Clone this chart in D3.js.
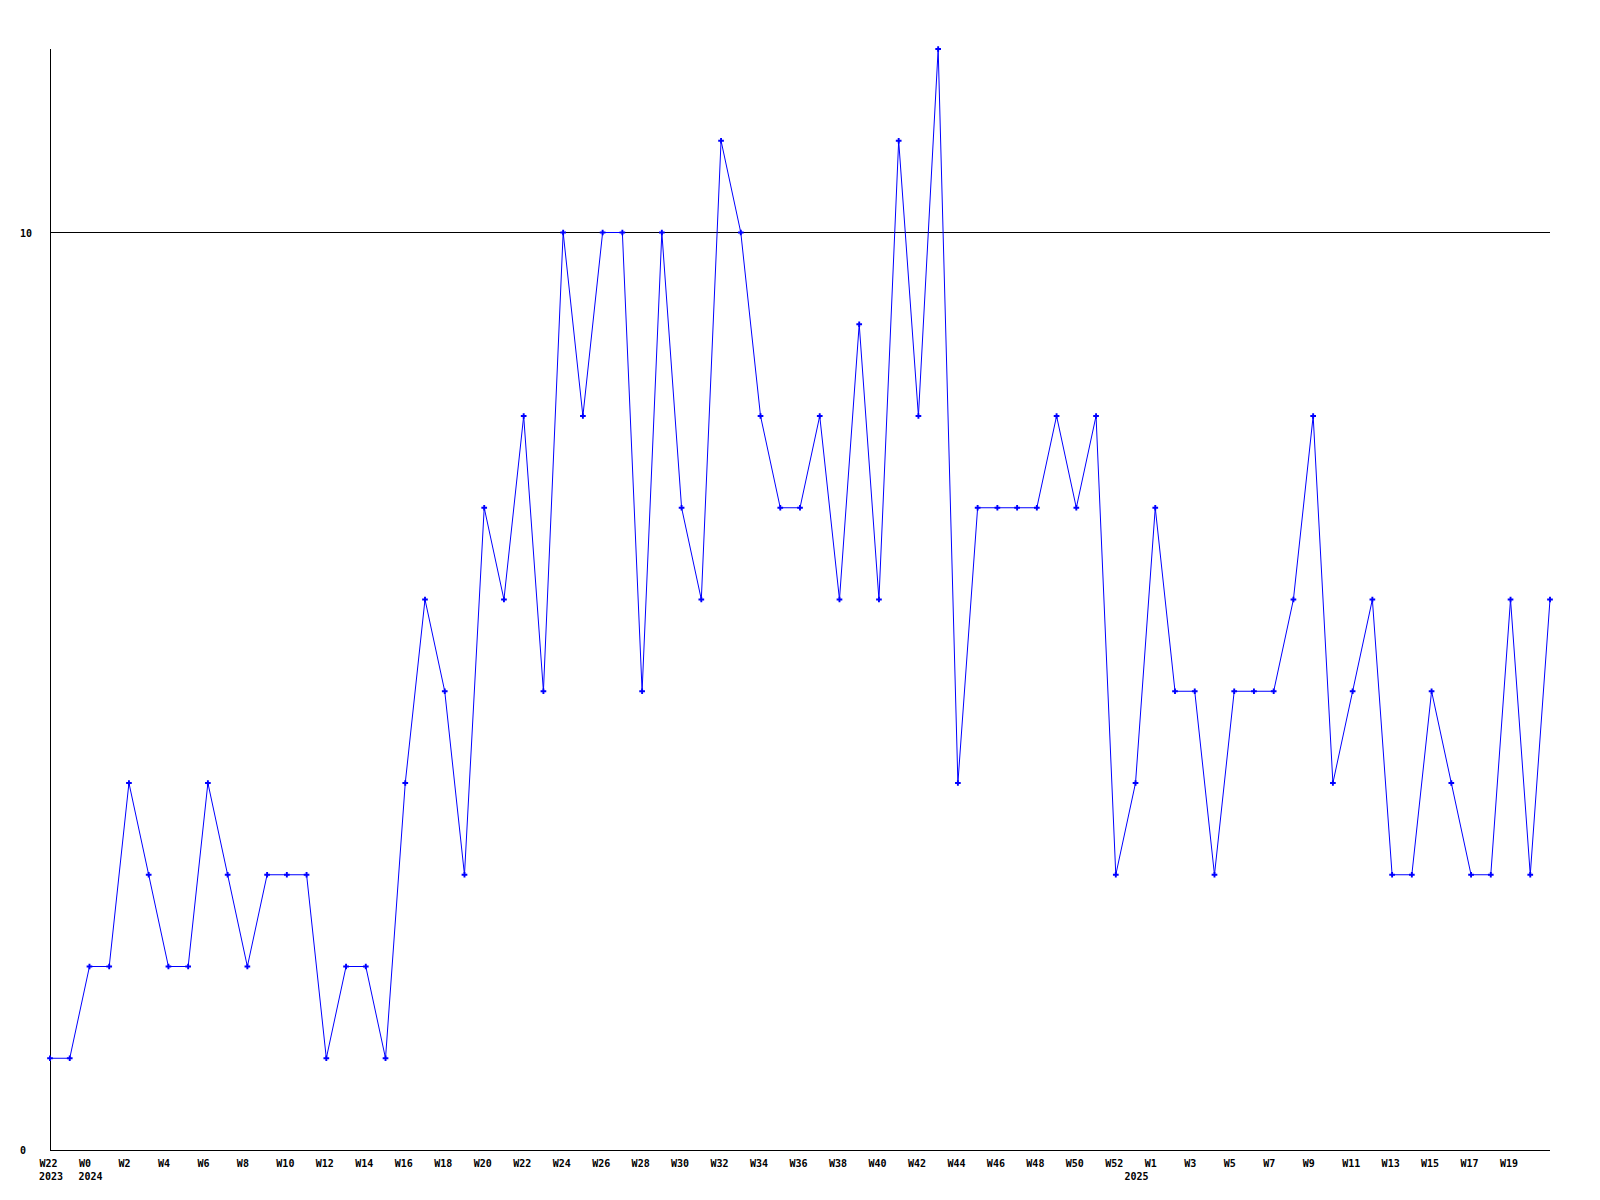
<!DOCTYPE html>
<html>
<head>
<meta charset="utf-8">
<script src="https://cdn.jsdelivr.net/npm/d3@7"></script>
<style>
  html, body { margin: 0; padding: 0; background: #ffffff; }
  svg { display: block; }
  text { font-family: "DejaVu Sans Mono", monospace; font-weight: bold; font-size: 10px; fill: #000; }
</style>
</head>
<body>
<script>
// ---- data ----
const weeks = ["W22","W23",
  "W0","W1","W2","W3","W4","W5","W6","W7","W8","W9","W10","W11","W12","W13","W14","W15","W16","W17","W18","W19","W20",
  "W21","W22","W23","W24","W25","W26","W27","W28","W29","W30","W31","W32","W33","W34","W35","W36","W37","W38","W39","W40",
  "W41","W42","W43","W44","W45","W46","W47","W48","W49","W50","W51","W52",
  "W0","W1","W2","W3","W4","W5","W6","W7","W8","W9","W10","W11","W12","W13","W14","W15","W16","W17","W18","W19","W20","W21"];
const years = [2023,2023].concat(d3.range(53).map(() => 2024)).concat(d3.range(22).map(() => 2025));
const values = [1,1,2,2,4,3,2,2,4,3,2,3,3,3,1,2,2,1,4,6,5,3,7,6,8,5,10,8,10,10,5,10,7,6,11,10,8,7,7,8,6,9,6,11,8,12,
  4,7,7,7,7,8,7,8,3,4,7,5,5,3,5,5,5,6,8,4,5,6,3,3,5,4,3,3,6,3,6];
const yTicks = [0, 10];
const yMax = 12;

// ---- layout ----
const W = 1600, H = 1200;
const mLeft = 50, mRight = 1550, mTop = 49, mBottom = 1150;

const svg = d3.select("body").append("svg").attr("width", W).attr("height", H);

const idx = d3.range(values.length);
const x = d3.scalePoint().domain(idx).range([mLeft, mRight]);
const y = d3.scaleLinear().domain([0, yMax]).range([mBottom, mTop]);

// grid line at 10
svg.append("g").selectAll("line").data(yTicks.filter(v => v > 0)).join("line")
  .attr("x1", mLeft).attr("x2", mRight)
  .attr("y1", d => Math.round(y(d)) + 0.5).attr("y2", d => Math.round(y(d)) + 0.5)
  .attr("stroke", "#000").attr("stroke-width", 1);

// axes lines
svg.append("line").attr("x1", mLeft + 0.5).attr("x2", mLeft + 0.5).attr("y1", mTop).attr("y2", mBottom + 0.5)
  .attr("stroke", "#000");
svg.append("line").attr("x1", mLeft).attr("x2", mRight).attr("y1", mBottom + 0.5).attr("y2", mBottom + 0.5)
  .attr("stroke", "#000");

// y labels
const yAxis = d3.axisLeft(y).tickValues(yTicks).tickSize(0).tickFormat(d3.format("d"));
const gy = svg.append("g").attr("transform", `translate(${mLeft},0)`).call(yAxis);
gy.select(".domain").remove();
gy.attr("font-family", null).attr("font-size", null);
gy.selectAll("text").attr("text-anchor", "start").attr("x", 20 - mLeft).attr("dy", "0.35em");

// x labels (weeks)
const evenIdx = idx.filter(i => i % 2 === 0 && i < idx.length - 1);
const xAxis = d3.axisBottom(x).tickValues(evenIdx).tickSize(0).tickFormat(i => weeks[i]);
const gx = svg.append("g").attr("transform", `translate(0,${mBottom})`).call(xAxis);
gx.select(".domain").remove();
gx.attr("font-family", null).attr("font-size", null);
gx.selectAll("text").attr("text-anchor", "start").attr("x", -11).attr("y", 17).attr("dy", null);

// year labels
const yearIdx = idx.filter(i => i === 0 || years[i] !== years[i - 1]);
svg.append("g").selectAll("text").data(yearIdx).join("text")
  .attr("x", i => x(i) - 11).attr("y", mBottom + 30)
  .attr("text-anchor", "start")
  .text(i => years[i]);

// line
const line = d3.line().x(i => x(i)).y(i => y(values[i]));
svg.append("path").datum(idx).attr("d", line)
  .attr("fill", "none").attr("stroke", "#0000ff").attr("stroke-width", 1);

// markers
const sym = d3.symbol().type(d3.symbolCross).size(18);
svg.append("g").selectAll("path").data(idx).join("path")
  .attr("transform", i => `translate(${x(i)},${y(values[i])})`)
  .attr("d", sym).attr("fill", "#0000ff");
</script>
</body>
</html>
